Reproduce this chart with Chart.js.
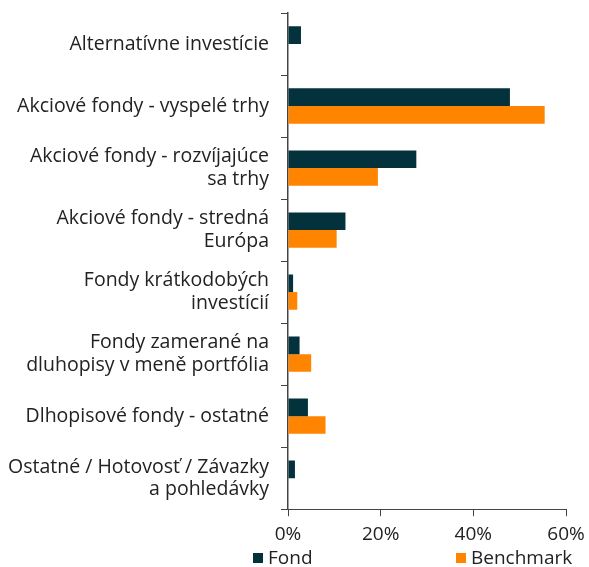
<!DOCTYPE html>
<html><head><meta charset="utf-8">
<script src="https://cdn.jsdelivr.net/npm/chart.js@4/dist/chart.umd.min.js"></script>
<style>
html,body{margin:0;padding:0;background:#fff;overflow:hidden}
#wrap{width:589px;height:567px;position:relative}
#legend{position:absolute;left:0;top:546px;width:589px;height:22px;font-family:'Open Sans',sans-serif;font-size:19px;color:#222}
.li{position:absolute;top:0;line-height:22px;white-space:nowrap}
.sw{display:inline-block;width:10px;height:10px;margin-right:5px;vertical-align:1px}
</style>
</head><body><div id="wrap"><canvas id="c"></canvas><div id="legend"></div></div>
<script>
const categories = [
  "Alternatívne investície",
  "Akciové fondy - vyspelé trhy",
  ["Akciové fondy - rozvíjajúce", "sa trhy"],
  ["Akciové fondy - stredná", "Európa"],
  ["Fondy krátkodobých", "investícií"],
  ["Fondy zamerané na", "dluhopisy v meně portfólia"],
  "Dlhopisové fondy - ostatné",
  ["Ostatné / Hotovosť / Závazky", "a pohledávky"]
];
const fondValues = [2.8, 47.9, 27.7, 12.4, 1.1, 2.5, 4.3, 1.5];
const benchmarkValues = [0, 55.4, 19.4, 10.5, 2.0, 5.0, 8.1, 0];
const xTicks = [0, 20, 40, 60];
const seriesNames = ["Fond", "Benchmark"];
const seriesColors = ['#03323d', '#ff8400'];

const FONT = "'Open Sans', sans-serif";
new Chart(document.getElementById('c'), {
  type: 'bar',
  data: {
    labels: categories,
    datasets: seriesNames.map((n, i) => ({
      label: n,
      data: i === 0 ? fondValues : benchmarkValues,
      backgroundColor: seriesColors[i],
      categoryPercentage: 0.57, barPercentage: 1
    }))
  },
  options: {
    indexAxis: 'y',
    responsive: true,
    maintainAspectRatio: false,
    animation: false,
    layout: {padding: {top: 13, right: 23, left: 0, bottom: 14}},
    plugins: {tooltip: {enabled: false}, legend: {display: false}},
    scales: {
      x: {
        min: 0, max: 60,
        afterBuildTicks: s => { s.ticks = xTicks.map(v => ({value: v})); },
        afterFit: s => { s.paddingLeft = 0; s.paddingRight = 0; },
        ticks: {callback: v => v + '%', font: {family: FONT, size: 19}, color: '#222', padding: 7},
        grid: {drawOnChartArea: false, tickLength: 7, color: '#444'},
        border: {color: '#444', width: 1}
      },
      y: {
        afterFit: s => { s.width = 288; s.paddingTop = 0; s.paddingBottom = 0; },
        ticks: {font: {family: FONT, size: 19.5, lineHeight: 1.15}, color: '#222', padding: 12, autoSkip: false},
        grid: {drawOnChartArea: false, tickLength: 7, color: '#444', offset: true},
        border: {color: '#444', width: 1.5}
      }
    }
  }
});

const legendPos = [253, 456];
const lg = document.getElementById('legend');
seriesNames.forEach((n, i) => {
  const d = document.createElement('div');
  d.className = 'li';
  d.style.left = legendPos[i] + 'px';
  const sw = document.createElement('span');
  sw.className = 'sw';
  sw.style.background = seriesColors[i];
  d.appendChild(sw);
  d.appendChild(document.createTextNode(n));
  lg.appendChild(d);
});
</script></body></html>
